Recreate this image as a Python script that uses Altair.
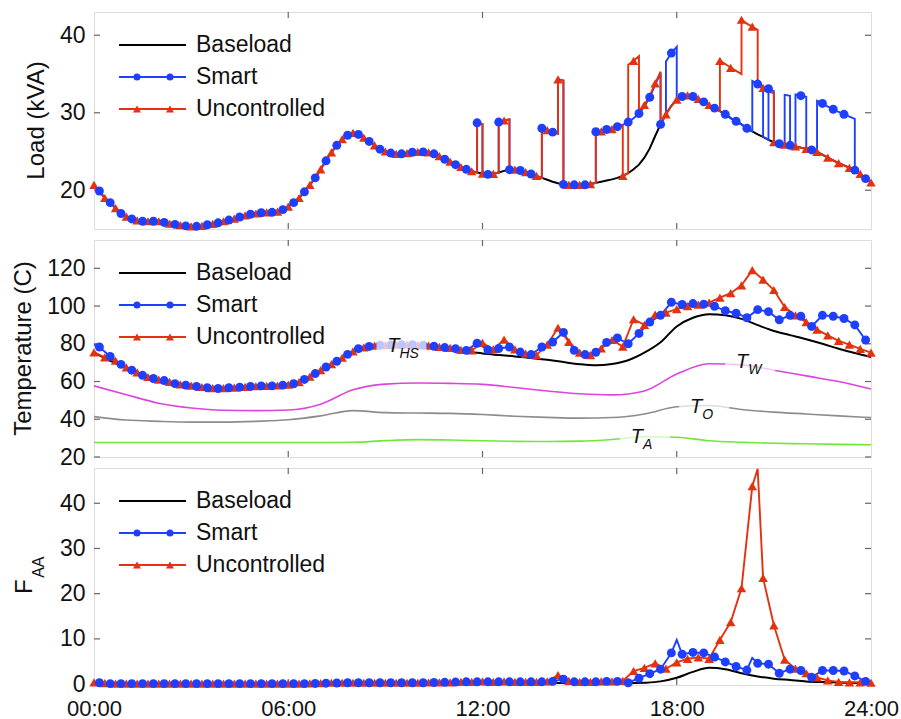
import altair as alt
import numpy as np
import pandas as pd

FONT = "Liberation Sans"
BLUE = "#1f3fff"
RED = "#e4320f"
MAGENTA = "#dd44dd"
GREY = "#8c8c8c"
GREEN = "#70e83a"
FRAME = "#666666"
W, H = 777, 217

# ---------------- shared text ----------------
x_tick_values = [0, 6, 12, 18, 24]
x_tick_labels = ["00:00", "06:00", "12:00", "18:00", "24:00"]
series_names = ["Baseload", "Smart", "Uncontrolled"]

# ---------------- panel 1 : load (kVA) ----------------
load_ticks = [20, 30, 40]
# baseload every 10 minutes, 00:00 .. 24:00
load_base = [
    20.7, 19.9, 19.0, 18.4, 17.7, 17.0,      # 00h
    16.6, 16.3, 16.1, 16.0, 16.0, 16.0,      # 01h
    16.0, 15.85, 15.7, 15.6, 15.5, 15.4,     # 02h
    15.35, 15.35, 15.4, 15.55, 15.65, 15.8,  # 03h
    16.0, 16.15, 16.35, 16.55, 16.75, 16.9,  # 04h
    17.0, 17.1, 17.15, 17.15, 17.25, 17.5,   # 05h
    17.9, 18.4, 19.0, 19.8, 20.7, 21.6,      # 06h
    22.7, 23.8, 24.9, 25.8, 26.6, 27.1,      # 07h
    27.4, 27.2, 26.8, 26.3, 25.8, 25.3,      # 08h
    25.0, 24.8, 24.7, 24.7, 24.8, 24.9,      # 09h
    24.95, 24.95, 24.9, 24.7, 24.4, 24.0,    # 10h
    23.7, 23.3, 23.0, 22.7, 22.45, 22.3,     # 11h
    22.15, 22.05, 22.1, 22.3, 22.5, 22.65,   # 12h
    22.65, 22.55, 22.35, 22.1, 21.85, 21.6,  # 13h
    21.35, 21.1, 20.9, 20.75, 20.7, 20.7,    # 14h
    20.7, 20.7, 20.8, 20.95, 21.1, 21.25,    # 15h
    21.4, 21.6, 21.85, 22.2, 22.7, 23.3,     # 16h
    24.2, 25.4, 27.0, 28.5, 29.8, 30.9,      # 17h
    31.7, 32.1, 32.25, 32.1, 31.8, 31.4,     # 18h
    31.0, 30.6, 30.2, 29.8, 29.3, 28.9,      # 19h
    28.5, 28.0, 27.6, 27.2, 26.9, 26.5,      # 20h
    26.2, 26.0, 25.9, 25.8, 25.65, 25.5,     # 21h
    25.35, 25.2, 24.95, 24.6, 24.2, 23.85,   # 22h
    23.5, 23.2, 22.9, 22.6, 22.1, 21.5,      # 23h
    21.0,
]
# EV charging blocks: (start, end, added kVA)
load_common_blocks = [
    ("11:50", "12:00", 6.4), ("12:30", "12:50", 6.5),
    ("13:50", "14:20", 6.4), ("14:20", "14:30", 13.4),
]
load_unc_blocks = load_common_blocks + [
    ("15:30", "16:20", 6.5), ("16:30", "16:50", 14.0), ("16:50", "17:30", 6.8),
    ("19:20", "20:00", 6.5), ("20:00", "20:30", 13.5), ("20:30", "21:00", 6.3),
]
load_smart_blocks = load_common_blocks + [
    ("15:30", "17:30", 6.6), ("17:40", "18:00", 6.8),
    ("20:20", "20:40", 6.5), ("20:50", "21:00", 6.6),
    ("21:20", "21:30", 6.4), ("21:40", "22:00", 6.7),
    ("22:20", "23:30", 6.6),
]

# ---------------- panel 2 : temperature (C) ----------------
temp_ticks = [20, 40, 60, 80, 100, 120]
# uncontrolled, every 20 min from 00:00 to 24:00
temp_unc = [
    75.5, 72.8, 71.0,  67.5, 64.8, 62.4,  61.0, 59.8, 58.5,  57.8, 57.1, 56.5,
    56.5, 56.8, 57.2,  57.5, 57.7, 57.9,  58.4, 59.7, 62.6,  66.0, 69.2, 72.6,
    76.0, 78.1, 79.0,  79.3, 79.5, 79.5,  79.4, 79.0, 78.4,  77.8, 76.8, 76.5,
    80.5, 77.0, 82.2,  77.0, 74.8, 74.0,  79.5, 88.5, 81.0,  75.3, 74.0, 77.5,
    82.0, 78.5, 93.0,  90.0, 95.5, 96.5,  98.4, 100.0, 100.8,  101.8, 104.5, 106.8,
    111.0, 119.0, 114.0,  108.5, 99.5, 95.0,  91.5, 87.5, 84.5,  81.5, 79.5, 77.3,
    75.3,
]
# smart, every 20 min from 00:10 to 23:50
temp_smart = [
    78.3, 73.3, 69.1,  66.0, 63.3, 61.6,  60.5, 58.9, 58.1,  57.4, 56.7, 56.3,
    56.7, 57.0, 57.4,  57.7, 57.7, 58.1,  58.8, 61.1, 64.2,  67.7, 70.7, 74.4,
    77.4, 78.6, 79.2,  79.4, 79.5, 79.5,  79.2, 78.7, 78.0,  77.4, 76.5, 80.3,
    76.8, 77.5, 78.3,  75.6, 74.3, 78.3,  80.9, 86.0, 76.5,  74.3, 75.5, 80.7,
    83.1, 80.0, 85.5,  91.5, 95.1, 102.0,  100.8, 101.3, 101.0,  99.9, 97.5, 96.2,
    93.8, 98.1, 97.0,  92.7, 95.1, 94.6,  89.2, 95.1, 94.6,  93.4, 90.0, 82.0,
]
temp_smart_extra = [(0.0, 79.5)]
# baseload hot-spot temperature, every 30 min
temp_base = [
    75.5, 71.0, 67.5, 63.8, 61.0, 59.2, 57.8, 57.0, 56.5, 56.9, 57.5, 57.7,
    58.4, 61.0, 66.0, 71.0, 76.0, 78.6, 79.3, 79.5, 79.4, 78.6, 77.0, 75.8,
    74.9, 74.0, 73.3, 72.5, 71.5, 70.3, 69.2, 68.6, 69.3, 71.3, 75.3, 80.8,
    89.2, 93.8, 95.7, 95.1, 93.2, 89.9, 86.8, 84.6, 82.4, 80.0, 77.4, 75.1,
    73.0,
]
# winding, oil and ambient temperatures, hourly
temp_w = [57.7, 53.0, 48.5, 46.0, 44.8, 44.6, 44.9, 48.0, 55.6, 58.6, 59.2, 59.0,
          58.5, 56.8, 55.0, 53.5, 52.9, 55.0, 64.0, 69.4, 68.8, 66.0, 63.0, 60.0, 56.0]
temp_o = [41.4, 39.6, 38.9, 38.5, 38.5, 38.9, 39.7, 41.8, 44.6, 43.5, 43.3, 43.1,
          42.5, 41.6, 41.0, 40.6, 40.9, 42.8, 46.6, 47.3, 45.2, 43.8, 42.8, 41.8, 40.9]
temp_a = [27.7, 27.7, 27.7, 27.7, 27.7, 27.7, 27.7, 27.7, 27.8, 28.7, 29.2, 29.0,
          28.6, 28.3, 28.2, 28.4, 29.3, 30.7, 30.5, 28.6, 27.8, 27.3, 27.0, 26.7, 26.5]
curve_labels = ["HS", "W", "O", "A"]
curve_label_t = [9.25, 20.02, 18.6, 16.77]
curve_label_v = [78.6, 70.4, 46.7, 30.5]

# ---------------- panel 3 : F_AA ----------------
faa_ticks = [0, 10, 20, 30, 40]
faa_unc = [
    0.4, 0.2, 0.1,  0.1, 0.1, 0.1,  0.1, 0.1, 0.1,  0.1, 0.1, 0.1,
    0.1, 0.1, 0.1,  0.1, 0.1, 0.1,  0.1, 0.1, 0.15,  0.2, 0.3, 0.3,
    0.3, 0.3, 0.3,  0.3, 0.3, 0.3,  0.3, 0.35, 0.4,  0.4, 0.5, 0.5,
    0.6, 0.5, 0.6,  0.5, 0.5, 0.5,  0.6, 2.0, 0.7,  0.5, 0.5, 0.6,
    0.6, 0.7, 2.9,  3.6, 4.6, 3.4,  4.8, 5.6, 5.9,  5.6, 9.8, 13.7,
    21.2, 43.8, 23.5,  13.0, 5.4, 3.4,  2.4, 1.5, 0.8,  0.5, 0.4, 0.4,
    0.3,
]
faa_unc_extra = [(20.5, 47.6)]
faa_smart = [
    0.3, 0.1, 0.1,  0.1, 0.1, 0.1,  0.1, 0.1, 0.1,  0.1, 0.1, 0.1,
    0.1, 0.1, 0.1,  0.1, 0.1, 0.1,  0.1, 0.1, 0.15,  0.2, 0.25, 0.3,
    0.3, 0.3, 0.3,  0.3, 0.3, 0.3,  0.3, 0.35, 0.4,  0.45, 0.5, 0.5,
    0.5, 0.5, 0.5,  0.5, 0.5, 0.5,  0.6, 1.1, 0.5,  0.5, 0.5, 0.6,
    0.6, 0.3, 1.3,  2.3, 3.3, 6.9,  6.6, 7.0, 6.9,  6.0, 4.9, 3.9,
    3.1, 4.6, 4.4,  2.4, 3.3, 3.0,  1.5, 3.0, 3.0,  2.9, 1.8, 0.6,
]
faa_smart_extra = [(18.0, 9.8), (20.33, 5.8)]
faa_base = [
    0.2, 0.15, 0.1, 0.1, 0.1, 0.1, 0.1, 0.1, 0.1, 0.1, 0.1, 0.1,
    0.1, 0.12, 0.15, 0.2, 0.2, 0.25, 0.25, 0.25, 0.25, 0.25, 0.25, 0.25,
    0.25, 0.25, 0.25, 0.25, 0.25, 0.25, 0.2, 0.2, 0.2, 0.2, 0.3, 0.6,
    1.4, 2.7, 3.6, 3.3, 2.4, 1.7, 1.2, 0.9, 0.6, 0.45, 0.35, 0.25,
    0.2,
]


# ---------------- helpers ----------------
def idx10(hhmm):
    h, m = hhmm.split(":")
    return (int(h) * 60 + int(m)) // 10


def with_blocks(base, blocks):
    extra = np.zeros(len(base))
    for start, end, kva in blocks:
        extra[idx10(start):idx10(end)] += kva
    line = []
    for i, b in enumerate(base):
        t = i / 6
        if i > 0 and abs(extra[i] - extra[i - 1]) > 1e-9:
            line.append((t, b + extra[i - 1]))
        line.append((t, b + extra[i]))
    marks = [(i / 6, base[i] + extra[i]) for i in range(len(base))]
    return line, marks


def line_df(points):
    df = pd.DataFrame(points, columns=["t", "v"])
    df["k"] = np.arange(len(df))
    return df


def grid_df(values):
    return pd.DataFrame({"t": np.linspace(0, 24, len(values)), "v": values})


one = pd.DataFrame({"z": [0]})

label_expr = " : ".join(
    f"datum.value == {v} ? '{s}'" for v, s in zip(x_tick_values, x_tick_labels)
) + " : ''"


def make_enc(domain, yticks, show_x):
    xaxis = alt.Axis(values=x_tick_values, labelExpr=label_expr, ticks=False, domain=False,
                     grid=False, title=None, labelFontSize=22, labelFont=FONT,
                     labelPadding=13, labelFlush=False, labelColor="#111") if show_x else None
    yaxis = alt.Axis(values=yticks, ticks=False, domain=False, grid=False, title=None,
                     labelFontSize=23, labelFont=FONT, labelPadding=9, labelColor="#111")

    def X(field="t"):
        return alt.X(f"{field}:Q", scale=alt.Scale(domain=[0, 24], nice=False, zero=False), axis=xaxis)

    def Y(field="v"):
        return alt.Y(f"{field}:Q", scale=alt.Scale(domain=domain, nice=False, zero=False), axis=yaxis)
    return X, Y


def tick_layers(X, Y, yticks):
    ty = pd.DataFrame({"v": yticks})
    tx = pd.DataFrame({"t": [6, 12, 18]})
    r = dict(color=FRAME, strokeWidth=1.2)
    return [
        alt.Chart(ty).mark_rule(**r).encode(y=Y(), x=alt.value(0), x2=alt.value(6)),
        alt.Chart(ty).mark_rule(**r).encode(y=Y(), x=alt.value(W - 6), x2=alt.value(W)),
        alt.Chart(tx).mark_rule(**r).encode(x=X(), y=alt.value(0), y2=alt.value(6)),
        alt.Chart(tx).mark_rule(**r).encode(x=X(), y=alt.value(H - 6), y2=alt.value(H)),
    ]


def legend_layers(rows=(33, 65, 97)):
    L = []
    cols = ["black", BLUE, RED]
    for c, y in zip(cols, rows):
        L.append(alt.Chart(one).mark_rule(color=c, strokeWidth=2).encode(
            x=alt.value(25), x2=alt.value(92), y=alt.value(y)))
    for px in (43, 76):
        L.append(alt.Chart(one).mark_point(shape="circle", filled=True, color=BLUE, size=50,
                                           opacity=1, strokeWidth=0).encode(
            x=alt.value(px), y=alt.value(rows[1])))
        L.append(alt.Chart(one).mark_point(shape="triangle-up", filled=True, color=RED, size=65,
                                           opacity=1, strokeWidth=0).encode(
            x=alt.value(px), y=alt.value(rows[2])))
    for name, y in zip(series_names, rows):
        L.append(alt.Chart(one).mark_text(align="left", baseline="middle", fontSize=23, font=FONT,
                                          color="#111").encode(
            x=alt.value(102), y=alt.value(y), text=alt.value(name)))
    return L


def series_layers(X, Y, base_df, smart_line, unc_line, smart_marks, unc_marks, base_interp):
    return [
        alt.Chart(base_df).mark_line(color="black", strokeWidth=2, interpolate=base_interp).encode(
            x=X(), y=Y()),
        alt.Chart(smart_line).mark_line(color=BLUE, strokeWidth=1.9).encode(
            x=X(), y=Y(), order="k:Q"),
        alt.Chart(unc_line).mark_line(color=RED, strokeWidth=1.9).encode(
            x=X(), y=Y(), order="k:Q"),
        alt.Chart(unc_marks).mark_point(shape="triangle-up", filled=True, color=RED, size=90,
                                        opacity=1, strokeWidth=0).encode(x=X(), y=Y()),
        alt.Chart(smart_marks).mark_point(shape="circle", filled=True, color=BLUE, size=80,
                                          opacity=1, strokeWidth=0).encode(x=X(), y=Y()),
    ]


def ytitle(text, x, size=24, y=H / 2):
    return alt.Chart(one).mark_text(angle=270, align="center", baseline="middle", fontSize=size,
                                    font=FONT, color="#111").encode(
        x=alt.value(x), y=alt.value(y), text=alt.value(text))


# ---------------- panel 1 ----------------
X1, Y1 = make_enc([15, 43], load_ticks, False)
unc_line1, unc_pts1 = with_blocks(load_base, load_unc_blocks)
sm_line1, sm_pts1 = with_blocks(load_base, load_smart_blocks)
unc_marks1 = pd.DataFrame(unc_pts1[0::2], columns=["t", "v"])
sm_marks1 = pd.DataFrame(sm_pts1[1::2], columns=["t", "v"])
p1_layers = tick_layers(X1, Y1, load_ticks) + series_layers(
    X1, Y1, pd.DataFrame({"t": np.arange(len(load_base)) / 6, "v": load_base}),
    line_df(sm_line1), line_df(unc_line1), sm_marks1, unc_marks1, "linear")
p1_layers += legend_layers() + [ytitle("Load (kVA)", -57)]
# white anchor fixing the left/top margin of the page
p1_layers.append(alt.Chart(one).mark_rule(color="white", strokeWidth=1).encode(
    x=alt.value(-92.5), y=alt.value(-11), y2=alt.value(-10.5)))
panel1 = alt.layer(*p1_layers).properties(width=W, height=H)

# ---------------- panel 2 ----------------
X2, Y2 = make_enc([20, 135], temp_ticks, False)
unc_t2 = np.arange(len(temp_unc)) / 3
sm_t2 = 1 / 6 + np.arange(len(temp_smart)) / 3
unc_marks2 = pd.DataFrame({"t": unc_t2, "v": temp_unc})
sm_marks2 = pd.DataFrame({"t": sm_t2, "v": temp_smart})
unc_line2 = line_df(sorted(zip(unc_t2, temp_unc)))
sm_line2 = line_df(sorted(list(zip(sm_t2, temp_smart)) + temp_smart_extra))
curves = [
    (temp_a, GREEN), (temp_o, GREY), (temp_w, MAGENTA),
]
p2_layers = tick_layers(X2, Y2, temp_ticks)
for vals, col in curves:
    p2_layers.append(alt.Chart(grid_df(vals)).mark_line(color=col, strokeWidth=1.6,
                                                       interpolate="monotone").encode(x=X2(), y=Y2()))
p2_layers += series_layers(X2, Y2, grid_df(temp_base), sm_line2, unc_line2, sm_marks2, unc_marks2,
                           "monotone")
lab_df = pd.DataFrame({"t": curve_label_t, "v": curve_label_v, "sub": curve_labels})
p2_layers += [
    alt.Chart(lab_df).mark_point(shape="M-1,-0.48L1,-0.48L1,0.48L-1,0.48Z", size=2500,
                                 filled=True, color="white", opacity=0.7, strokeWidth=0,
                                 xOffset=8, yOffset=3).encode(x=X2(), y=Y2()),
    alt.Chart(lab_df).mark_text(text="T", fontStyle="italic", fontSize=20, font=FONT,
                                align="center", baseline="middle", color="#111").encode(
        x=X2(), y=Y2()),
    alt.Chart(lab_df).mark_text(fontStyle="italic", fontSize=14, font=FONT, align="left",
                                baseline="middle", dx=6, dy=8, color="#111").encode(
        x=X2(), y=Y2(), text="sub:N"),
]
p2_layers += legend_layers() + [ytitle("Temperature (C)", -70.5)]
panel2 = alt.layer(*p2_layers).properties(width=W, height=H)

# ---------------- panel 3 ----------------
X3, Y3 = make_enc([-0.2, 47.8], faa_ticks, True)
unc_t3 = np.arange(len(faa_unc)) / 3
sm_t3 = 1 / 6 + np.arange(len(faa_smart)) / 3
unc_marks3 = pd.DataFrame({"t": unc_t3, "v": faa_unc})
sm_marks3 = pd.DataFrame({"t": sm_t3, "v": faa_smart})
unc_line3 = line_df(sorted(list(zip(unc_t3, faa_unc)) + faa_unc_extra))
sm_line3 = line_df(sorted(list(zip(sm_t3, faa_smart)) + faa_smart_extra))
p3_layers = tick_layers(X3, Y3, faa_ticks) + series_layers(
    X3, Y3, grid_df(faa_base), sm_line3, unc_line3, sm_marks3, unc_marks3, "monotone")
p3_layers += legend_layers()
p3_layers += [ytitle("F", -69.5, 24, 118.7), ytitle("AA", -55, 16, 99.2)]
panel3 = alt.layer(*p3_layers).properties(width=W, height=H)

chart = alt.vconcat(panel1, panel2, panel3, spacing=11, bounds="flush").properties(
    padding={"left": 0, "top": 0, "right": 0, "bottom": 0}
).configure_view(stroke=FRAME, strokeWidth=1.3).configure(background="white")

chart.save("out.html", embed_options={"renderer": "svg", "actions": False})
